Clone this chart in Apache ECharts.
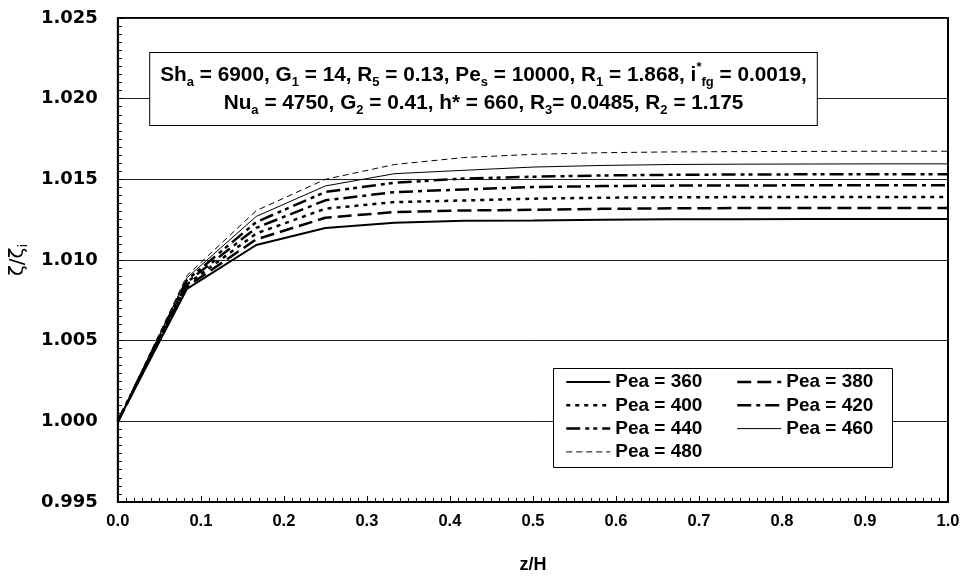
<!DOCTYPE html>
<html>
<head>
<meta charset="utf-8">
<script src="https://cdn.jsdelivr.net/npm/echarts@6/dist/echarts.min.js"></script>
<style>
html,body{margin:0;padding:0;background:#fff;}
#main{width:967px;height:583px;}
</style>
</head>
<body>
<div id="main"></div>
<script>
// z/H positions
var zH = [0, 0.0833, 0.1667, 0.25, 0.3333, 0.4167, 0.5, 0.5833, 0.6667, 0.75, 0.8333, 0.9167, 1.0];

// zeta/zeta_i for each Pea
var pea360 = [1.0000, 1.00821, 1.01093, 1.01198, 1.01231, 1.01243, 1.01245, 1.01249, 1.01252, 1.01253, 1.01254, 1.01254, 1.01254];
var pea380 = [1.0000, 1.00835, 1.01128, 1.01262, 1.01297, 1.01307, 1.01311, 1.01317, 1.01320, 1.01322, 1.01323, 1.01323, 1.01323];
var pea400 = [1.0000, 1.00849, 1.01164, 1.01318, 1.01359, 1.01369, 1.01380, 1.01386, 1.01389, 1.01390, 1.01391, 1.01391, 1.01391];
var pea420 = [1.0000, 1.00863, 1.01199, 1.01370, 1.01421, 1.01437, 1.01452, 1.01458, 1.01461, 1.01462, 1.01463, 1.01463, 1.01463];
var pea440 = [1.0000, 1.00876, 1.01235, 1.01422, 1.01479, 1.01505, 1.01516, 1.01524, 1.01528, 1.01530, 1.01531, 1.01531, 1.01531];
var pea460 = [1.0000, 1.00890, 1.01270, 1.01459, 1.01535, 1.01556, 1.01576, 1.01586, 1.01592, 1.01594, 1.01595, 1.01596, 1.01596];
var pea480 = [1.0000, 1.00904, 1.01306, 1.01500, 1.01592, 1.01635, 1.01655, 1.01665, 1.01670, 1.01672, 1.01673, 1.01674, 1.01674];

var seriesNames = ['Pea = 360', 'Pea = 380', 'Pea = 400', 'Pea = 420', 'Pea = 440', 'Pea = 460', 'Pea = 480'];
var seriesData = [pea360, pea380, pea400, pea420, pea440, pea460, pea480];
var lineTypes = ['solid', [14, 6], [4, 5], [14, 5, 4, 5], [14, 5, 4, 4, 4, 5], 'solid', [6, 4]];
var lineWidths = [2, 2.5, 2.5, 2.5, 2.5, 1, 1];

var myChart = echarts.init(document.getElementById('main'));

var series = [];
for (var i = 0; i < seriesNames.length; i++) {
    var pts = [];
    for (var j = 0; j < zH.length; j++) pts.push([zH[j], seriesData[i][j]]);
    series.push({
        name: seriesNames[i],
        type: 'line',
        data: pts,
        symbol: 'none',
        silent: true,
        animation: false,
        color: '#000',
        lineStyle: {color: '#000', width: lineWidths[i], type: lineTypes[i]}
    });
}

// legend entries keep each series' own line width and dash
function legendItems(idx) {
    return idx.map(function (k) {
        return {name: seriesNames[k], lineStyle: {width: lineWidths[k], type: lineTypes[k], color: '#000'}};
    });
}

var F = 'Liberation Sans, Arial, sans-serif';
var rich = {
    n: {fontFamily: F, fontWeight: 'bold', fontSize: 20.8, lineHeight: 28, color: '#000', align: 'center'},
    s: {fontFamily: F, fontWeight: 'bold', fontSize: 13, lineHeight: 16, verticalAlign: 'bottom', color: '#000', align: 'center'},
    p: {fontFamily: F, fontWeight: 'bold', fontSize: 13, lineHeight: 12, verticalAlign: 'top', color: '#000', align: 'center'}
};
var boxText =
    '{n|Sh}{s|a}{n| = 6900, G}{s|1}{n| = 14, R}{s|5}{n| = 0.13, Pe}{s|s}{n| = 10000, R}{s|1}{n| = 1.868, i}{p|*}{s|fg}{n| = 0.0019,}\n' +
    '{n|Nu}{s|a}{n| = 4750, G}{s|2}{n| = 0.41, h* = 660, R}{s|3}{n|= 0.0485, R}{s|2}{n| = 1.175}';

var legendText = {fontFamily: F, fontWeight: 'bold', fontSize: 19, color: '#000', lineHeight: 20};

option = {
    backgroundColor: '#fff',
    animation: false,
    grid: {
        left: 117, right: 19, top: 18, bottom: 81,
        show: true, borderColor: '#000', borderWidth: 2
    },
    xAxis: {
        type: 'value',
        min: 0, max: 1, interval: 0.1,
        name: 'z/H',
        nameLocation: 'middle',
        nameGap: 54,
        nameTextStyle: {fontFamily: F, fontWeight: 'bold', fontSize: 18, color: '#000'},
        axisLine: {show: true, lineStyle: {color: '#000', width: 2}},
        axisTick: {show: true, inside: true, length: 6, lineStyle: {color: '#000', width: 1}},
        minorTick: {show: true, splitNumber: 10, length: 4, lineStyle: {color: '#000', width: 1}},
        splitLine: {show: false},
        axisLabel: {
            margin: 11,
            fontFamily: F, fontWeight: 'bold', fontSize: 16.5, color: '#000',
            formatter: function (v) { return v.toFixed(1); }
        }
    },
    yAxis: {
        type: 'value',
        min: 0.995, max: 1.025, interval: 0.005,
        name: '{a|ζ/ζ}{b|i}',
        nameLocation: 'middle',
        nameGap: 80,
        nameTextStyle: {
            rich: {
                a: {fontFamily: 'DejaVu Sans', fontSize: 20, color: '#000', lineHeight: 24},
                b: {fontFamily: 'DejaVu Sans', fontSize: 13, color: '#000', lineHeight: 12, verticalAlign: 'bottom'}
            }
        },
        axisLine: {show: true, lineStyle: {color: '#000', width: 2}},
        axisTick: {show: true, inside: true, length: 5, lineStyle: {color: '#000', width: 1}},
        minorTick: {show: true, splitNumber: 10, length: 4, lineStyle: {color: '#000', width: 1}},
        splitLine: {show: true, lineStyle: {color: '#222', width: 1}},
        axisLabel: {
            margin: 20,
            fontFamily: 'DejaVu Sans', fontWeight: 'bold', fontSize: 18, color: '#000',
            formatter: function (v) { return v.toFixed(3); }
        }
    },
    legend: [{
        orient: 'vertical',
        left: 565, top: 372,
        padding: 0,
        itemWidth: 44, itemHeight: 14, itemGap: 3.3,
        itemStyle: {opacity: 0},
        textStyle: legendText,
        data: legendItems([0, 2, 4, 6])
    }, {
        orient: 'vertical',
        left: 736, top: 372,
        padding: 0,
        itemWidth: 44, itemHeight: 14, itemGap: 3.3,
        itemStyle: {opacity: 0},
        textStyle: legendText,
        data: legendItems([1, 3, 5])
    }],
    graphic: [{
        type: 'rect',
        left: 553, top: 368,
        z: 3,
        shape: {width: 339, height: 99},
        style: {fill: '#fff', stroke: '#000', lineWidth: 1}
    }, {
        type: 'text',
        left: 'center', top: 52,
        z: 100,
        style: {
            text: boxText,
            rich: rich,
            align: 'center',
            backgroundColor: '#fff',
            borderColor: '#000',
            borderWidth: 1,
            padding: [8, 10, 8, 10]
        }
    }],
    series: series
};

if (option && typeof option === "object") {
    myChart.setOption(option, true);
}
</script>
</body>
</html>
